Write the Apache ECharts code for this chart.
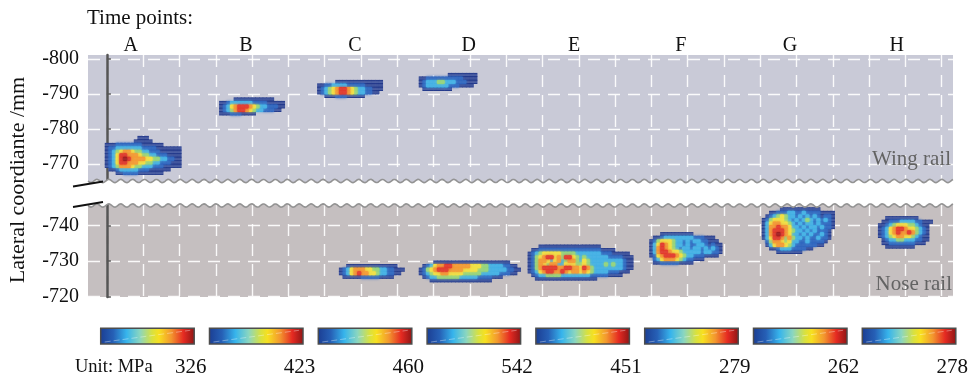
<!DOCTYPE html>
<html>
<head>
<meta charset="utf-8">
<script src="https://cdn.jsdelivr.net/npm/echarts@6/dist/echarts.min.js"></script>
<style>
  html, body { margin: 0; padding: 0; background: #fff; }
  #chart { width: 969px; height: 379px; }
</style>
</head>
<body>
<div id="chart"></div>
<script>
const SERIF = '"Liberation Serif", "Times New Roman", serif';

// Time points and their longitudinal position (mm)
const timeLabels = ['A', 'B', 'C', 'D', 'E', 'F', 'G', 'H'];
const timePos = [6.6, 38.3, 68.3, 99.7, 128.7, 158.1, 188.2, 217.6];
// Peak contact stress at each time point (MPa)
const peakStress = [326, 423, 460, 542, 451, 279, 262, 278];

// Lateral ticks (mm) of both rails and the longitudinal grid (mm)
const wingTicks = [-800, -790, -780, -770];
const noseTicks = [-740, -730, -720];
const gridLines = [0, 10, 20, 30, 40, 50, 60, 70, 80, 90, 100, 110, 120,
                   130, 140, 150, 160, 170, 180, 190, 200, 210, 220, 230];

// Contact patches on 1 mm cells; each digit is a stress level 1..8
// relative to that time point's peak, '.' means no contact.
const wingA = [
  '.........111',
  '........11111',
  '1112222222111111',
  '122333333322221111111',
  '123456654433222111111',
  '123577666544332221111',
  '123578766665544332211',
  '123577666554433222111',
  '123466654433322211111',
  '.11233333222111111',
  '...1122221111111'
];
const wingB = [
  '....11111111111',
  '112333333222211111',
  '123567776543322211',
  '12346776543322211',
  '1112221111'
];
const wingC = [
  '.....1111111111111',
  '112233332222211111',
  '123456776543322111',
  '12345677654332211',
  '..11122211111'
];
const wingD = [
  '........11111111',
  '1122222222221111',
  '1233344333222111',
  '123333332221111',
  '.11111111'
];
const noseC = [
  '..11111111111111',
  '123566655443322111',
  '12356766554332211',
  '.11111222221111'
];
const noseD = [
  '....111111111111111111111',
  '.12356677666665554433332211',
  '1245677766665555444333332211',
  '123455665555444443333322211',
  '.1233444444333332222111',
  '...11111111111111111'
];
const noseE = [
  '...11111111111111111',
  '.11222222222222222221111',
  '1234555554444333333322211111',
  '12456775647754343333332222111',
  '12466535634664354333333333211',
  '12465466335554454333343433211',
  '12467777667766576433333333211',
  '1235677667656656543333222111',
  '.1233444433333333222221111',
  '..11111111111111111'
];
const noseF = [
  '...111111111',
  '.11233333333222111',
  '1245554332323322111',
  '13576543323223321211',
  '13676543233233232321',
  '13677655433333233221',
  '1256777654332221111',
  '.23566654322111',
  '.11222221111'
];
const noseG = [
  '.....11111111111',
  '..112223322322221111',
  '.1234543323232321221',
  '12455543232343232321',
  '13566554323233232221',
  '13667665332323323221',
  '1367776543323232221',
  '1367876533232322321',
  '1357764643323223221',
  '.24665453322322221',
  '.1356654322222211',
  '..112333222211',
  '....1111111'
];
const noseH = [
  '..111111111',
  '.11222333322111',
  '11234555443211',
  '12356776554321',
  '12356766764321',
  '12345665543211',
  '.1233443332211',
  '.112222222111',
  '..11111111'
];

// Cell origin (longitudinal mm, lateral mm) of each patch
const wingPatches = [wingA, wingB, wingC, wingD];
const wingOrigins = [[-0.5, -778], [31, -789], [58, -794], [86, -796]];
const nosePatches = [noseC, noseD, noseE, noseF, noseG, noseH];
const noseOrigins = [[64, -729], [86, -730], [116, -734.5], [149.5, -738], [180.5, -745], [212.5, -742.5]];

// Jet-like fill for the stress levels
const levelColors = ['none', '#253b8c', '#2f66bf', '#43b1e5', '#94d47c',
                     '#f2e142', '#f59b33', '#e33a2c', '#a21d1f'];

function toCells(rows, origin) {
  const out = [];
  rows.forEach((row, j) => {
    for (let i = 0; i < row.length; i++) {
      const c = row[i];
      if (c !== '.') out.push([origin[0] + i, origin[1] + j, Number(c)]);
    }
  });
  return out;
}
function collect(patches, origins) {
  let all = [];
  patches.forEach((p, k) => { all = all.concat(toCells(p, origins[k])); });
  // hotter cells are painted last so their soft edge lies over cooler ones
  return all.sort((a, b) => a[2] - b[2]);
}

function renderCell(params, api) {
  const x = api.value(0), y = api.value(1), lv = api.value(2);
  const p0 = api.coord([x, y]);
  const p1 = api.coord([x + 1, y + 1]);
  const w = p1[0] - p0[0], h = p1[1] - p0[1];
  const fill = levelColors[lv];
  const children = [{
    type: 'rect',
    shape: { x: p0[0] - 0.3, y: p0[1] - 0.3, width: w + 0.6, height: h + 0.6, r: lv > 1 ? 1.2 : 0 },
    style: lv > 1 ? { fill: fill, shadowBlur: 2.5, shadowColor: fill } : { fill: fill }
  }];
  // fine horizontal hatching of the scanned patch
  const stripeAlpha = lv === 1 ? 0.38 : 0.12;
  for (let s = 1; s <= 2; s++) {
    const yy = p0[1] + h * s / 3;
    children.push({
      type: 'line',
      shape: { x1: p0[0] - 0.3, y1: yy, x2: p0[0] + w + 0.3, y2: yy },
      style: { stroke: 'rgba(210,220,245,' + stripeAlpha + ')', lineWidth: 0.6 }
    });
  }
  return { type: 'group', children };
}

// Wavy cut edge of a panel plus the break mark on the lateral axis
function waveEdge(side) {
  return function (params, api) {
    const cs = params.coordSys;
    const base = side === 'bottom' ? cs.y + cs.height - 1 : cs.y + 1.5;
    const pts = [];
    const period = 11.9, amp = 1.6;
    for (let x = cs.x; x <= cs.x + cs.width + 0.01; x += 1) {
      pts.push([x, base + amp * Math.sin(2 * Math.PI * (x - cs.x) / period)]);
    }
    const cover = side === 'bottom'
      ? pts.concat([[cs.x + cs.width, base + 5], [cs.x, base + 5]])
      : pts.concat([[cs.x + cs.width, base - 5], [cs.x, base - 5]]);
    const markY = side === 'bottom' ? base + 3 : base - 1;
    return {
      type: 'group',
      children: [
        { type: 'polygon', shape: { points: cover }, style: { fill: '#fff' } },
        { type: 'polyline', shape: { points: pts }, style: { stroke: '#939393', lineWidth: 1.6, fill: null } },
        { type: 'line', shape: { x1: cs.x - 15, y1: markY + 2.5, x2: cs.x + 15, y2: markY - 2.5 },
          style: { stroke: '#111', lineWidth: 1.8 } }
      ]
    };
  };
}

const chart = echarts.init(document.getElementById('chart'), null, { renderer: 'canvas' });

const splitStyle = { show: true, lineStyle: { color: 'rgba(255,255,255,0.9)', width: 1.4, type: [12, 8] } };
const yLabel = { fontFamily: SERIF, fontSize: 20, color: '#111', margin: 9, padding: [6, 0, 0, 0] };

// colour bars with their peak values
const barX0 = 100.7, barStep = 108.8, barW = 93.5, barY = 328.3, barH = 15.7;
const jet = [
  { offset: 0, color: '#1b3d92' }, { offset: 0.14, color: '#2660b6' },
  { offset: 0.28, color: '#36b4ec' }, { offset: 0.42, color: '#8ad6c0' },
  { offset: 0.55, color: '#d9e13e' }, { offset: 0.62, color: '#f7e020' },
  { offset: 0.75, color: '#f3972e' }, { offset: 0.88, color: '#e52a22' },
  { offset: 1, color: '#8a1515' }
];
const graphics = [];
peakStress.forEach((v, k) => {
  const x = barX0 + k * barStep;
  graphics.push({
    type: 'rect', shape: { x: x, y: barY, width: barW, height: barH },
    style: { fill: new echarts.graphic.LinearGradient(0, 0, 1, 0, jet), stroke: '#4d4d4d', lineWidth: 1.5 }
  });
  graphics.push({
    type: 'line', shape: { x1: x + 4, y1: barY + barH - 2, x2: x + barW - 4, y2: barY + 2 },
    style: { stroke: 'rgba(255,255,255,0.45)', lineWidth: 0.8, lineDash: [6, 3] }
  });
  graphics.push({
    type: 'text', x: x + 90, y: 367,
    style: { text: String(v), fontFamily: SERIF, fontSize: 21, fill: '#111', align: 'center', verticalAlign: 'middle' }
  });
});
graphics.push({
  type: 'text', x: 75, y: 367,
  style: { text: 'Unit: MPa', fontFamily: SERIF, fontSize: 18.5, fill: '#111', align: 'left', verticalAlign: 'middle' }
});
graphics.push({
  type: 'text', x: 87, y: 18,
  style: { text: 'Time points:', fontFamily: SERIF, fontSize: 21, fill: '#111', align: 'left', verticalAlign: 'middle' }
});
graphics.push({
  type: 'text', x: 18, y: 180, rotation: Math.PI / 2,
  style: { text: 'Lateral coordiante /mm', fontFamily: SERIF, fontSize: 22, fill: '#111', align: 'center', verticalAlign: 'middle' }
});
graphics.push({
  type: 'text', x: 951, y: 159, z: 20,
  style: { text: 'Wing rail', fontFamily: SERIF, fontSize: 21, fill: '#636363', align: 'right', verticalAlign: 'middle' }
});
graphics.push({
  type: 'text', x: 952, y: 284, z: 20,
  style: { text: 'Nose rail', fontFamily: SERIF, fontSize: 21, fill: '#636363', align: 'right', verticalAlign: 'middle' }
});

chart.setOption({
  animation: false,
  grid: [
    { left: 88, right: 16, top: 55, height: 127, show: true, backgroundColor: '#c9cad7', borderWidth: 0 },
    { left: 88, right: 16, top: 204, height: 93, show: true, backgroundColor: '#c5bfc0', borderWidth: 0 }
  ],
  xAxis: [
    {
      gridIndex: 0, type: 'value', min: -5.2, max: 233.1, position: 'top',
      axisLine: { show: false },
      axisTick: { show: false, customValues: gridLines },
      axisLabel: {
        customValues: timePos, margin: -1,
        fontFamily: SERIF, fontSize: 20, color: '#111',
        formatter: v => timeLabels[timePos.indexOf(v)]
      },
      splitLine: splitStyle
    },
    {
      gridIndex: 1, type: 'value', min: -5.2, max: 233.1,
      axisLine: { show: false },
      axisTick: { show: false, customValues: gridLines },
      axisLabel: { show: false },
      splitLine: splitStyle
    }
  ],
  yAxis: [
    {
      gridIndex: 0, type: 'value', inverse: true, min: -801.2, max: -764.9,
      axisLine: { show: true, lineStyle: { color: '#555', width: 2.5 } },
      axisTick: { show: true, inside: true, length: 4, customValues: wingTicks, lineStyle: { color: '#555', width: 1.5 } },
      axisLabel: Object.assign({ customValues: wingTicks }, yLabel),
      splitLine: splitStyle
    },
    {
      gridIndex: 1, type: 'value', inverse: true, min: -746, max: -719.8,
      axisLine: { show: true, lineStyle: { color: '#555', width: 2.5 } },
      axisTick: { show: true, inside: true, length: 4, customValues: noseTicks, lineStyle: { color: '#555', width: 1.5 } },
      axisLabel: Object.assign({ customValues: noseTicks }, yLabel),
      splitLine: splitStyle
    }
  ],
  series: [
    {
      name: 'Wing rail', type: 'custom', xAxisIndex: 0, yAxisIndex: 0, z: 3,
      renderItem: renderCell, encode: { x: 0, y: 1 },
      data: collect(wingPatches, wingOrigins)
    },
    {
      name: 'Nose rail', type: 'custom', xAxisIndex: 1, yAxisIndex: 1, z: 3,
      renderItem: renderCell, encode: { x: 0, y: 1 },
      data: collect(nosePatches, noseOrigins)
    },
    {
      type: 'custom', xAxisIndex: 0, yAxisIndex: 0, z: 5, silent: true,
      renderItem: waveEdge('bottom'), data: [[0, -780]]
    },
    {
      type: 'custom', xAxisIndex: 1, yAxisIndex: 1, z: 5, silent: true,
      renderItem: waveEdge('top'), data: [[0, -730]]
    }
  ],
  graphic: graphics
});
</script>
</body>
</html>
